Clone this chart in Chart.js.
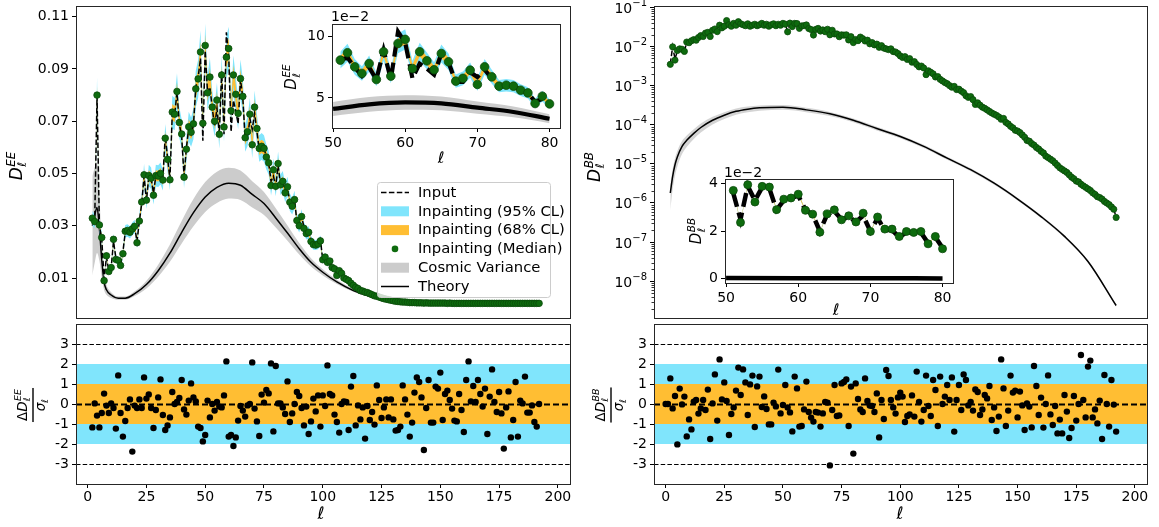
<!DOCTYPE html>
<html>
<head>
<meta charset="utf-8">
<title>Inpainting EE / BB</title>
<script src="https://cdn.jsdelivr.net/npm/chart.js@4.4.1/dist/chart.umd.min.js"></script>
<style>
  html, body { margin: 0; padding: 0; background: #fff; }
  #page { position: relative; width: 1159px; height: 527px; overflow: hidden; }
  canvas { position: absolute; }
</style>
</head>
<body>
<div id="page">
  <canvas id="eeMain" width="580" height="340" style="left:0px;top:-10px"></canvas>
  <canvas id="eeRes" width="580" height="209" style="left:0px;top:318px"></canvas>
  <canvas id="bbMain" width="579" height="340" style="left:580px;top:-10px"></canvas>
  <canvas id="bbRes" width="579" height="209" style="left:580px;top:318px"></canvas>
  <canvas id="eeInset" width="300" height="175" style="left:270px;top:0px"></canvas>
  <canvas id="bbInset" width="310" height="180" style="left:660px;top:150px"></canvas>
</div>
<script>
// ---- DATA ----
const ell = Array.from({ length: 191 }, (_, i) => i + 2);       // multipoles 2..192
const ellResBB = Array.from({ length: 193 }, (_, i) => i);     // BB residuals start at 0

const eeMedian = [
  0.0329, 0.0316, 0.0800, 0.0303, 0.0255, 0.0090, 0.0185, 0.0125, 0.0140, 0.0248,
  0.0171, 0.0168, 0.0148, 0.0193, 0.0279, 0.0282, 0.0275, 0.0288, 0.0298, 0.0235,
  0.0318, 0.0391, 0.0495, 0.0398, 0.0492, 0.0482, 0.0417, 0.0492, 0.0490, 0.0500,
  0.0475, 0.0635, 0.0554, 0.0476, 0.0735, 0.0727, 0.0814, 0.0695, 0.0651, 0.0486,
  0.0593, 0.0679, 0.0658, 0.0690, 0.0824, 0.0862, 0.0965, 0.0692, 0.0990, 0.0809,
  0.0869, 0.0754, 0.0700, 0.0781, 0.0650, 0.0877, 0.0678, 0.0945, 0.0978, 0.0740,
  0.0877, 0.0803, 0.0730, 0.0863, 0.0795, 0.0637, 0.0660, 0.0727, 0.0610, 0.0754,
  0.0672, 0.0596, 0.0604, 0.0596, 0.0563, 0.0541, 0.0454, 0.0514, 0.0451, 0.0538,
  0.0457, 0.0470, 0.0426, 0.0449, 0.0390, 0.0375, 0.0400, 0.0320, 0.0300, 0.0335,
  0.0290, 0.0270, 0.0275, 0.0240, 0.0228, 0.0226, 0.0230, 0.0242, 0.0170, 0.0180,
  0.0160, 0.0165, 0.0140, 0.0135, 0.0110, 0.0128, 0.0118, 0.0100, 0.0095, 0.0090,
  0.0080, 0.0072, 0.0064, 0.0060, 0.0052, 0.0050, 0.0046, 0.0044, 0.0040, 0.0036,
  0.0032, 0.0030, 0.0027, 0.0024, 0.0021, 0.0019, 0.0017, 0.0015, 0.0013, 0.0011,
  0.0010, 0.0009, 0.0008, 0.0008, 0.0007, 0.0006, 0.0006, 0.0006, 0.0005, 0.0005,
  0.0005, 0.0004, 0.0005, 0.0004, 0.0004, 0.0004, 0.0004, 0.0004, 0.0004, 0.0004,
  0.0004, 0.0003, 0.0004, 0.0003, 0.0003, 0.0003, 0.0003, 0.0003, 0.0003, 0.0003,
  0.0003, 0.0003, 0.0003, 0.0003, 0.0003, 0.0003, 0.0003, 0.0003, 0.0003, 0.0003,
  0.0003, 0.0003, 0.0003, 0.0003, 0.0003, 0.0003, 0.0003, 0.0003, 0.0003, 0.0003,
  0.0003, 0.0003, 0.0003, 0.0003, 0.0003, 0.0003, 0.0003, 0.0003, 0.0003, 0.0003, 0.0003
];
const eeInput = [
  0.0330, 0.0320, 0.0795, 0.0300, 0.0250, 0.0095, 0.0180, 0.0128, 0.0138, 0.0240,
  0.0178, 0.0160, 0.0150, 0.0200, 0.0275, 0.0282, 0.0272, 0.0300, 0.0296, 0.0240,
  0.0318, 0.0385, 0.0490, 0.0395, 0.0488, 0.0482, 0.0425, 0.0490, 0.0485, 0.0490,
  0.0480, 0.0645, 0.0560, 0.0480, 0.0730, 0.0725, 0.0810, 0.0690, 0.0640, 0.0490,
  0.0598, 0.0675, 0.0650, 0.0685, 0.0830, 0.0868, 0.0940, 0.0625, 0.0970, 0.0810,
  0.0830, 0.0750, 0.0680, 0.0750, 0.0650, 0.0890, 0.0650, 0.1040, 0.0950, 0.0660,
  0.0780, 0.0740, 0.0690, 0.0860, 0.0790, 0.0630, 0.0630, 0.0710, 0.0670, 0.0730,
  0.0660, 0.0590, 0.0600, 0.0600, 0.0560, 0.0540, 0.0470, 0.0490, 0.0450, 0.0530,
  0.0460, 0.0472, 0.0430, 0.0440, 0.0395, 0.0378, 0.0400, 0.0315, 0.0298, 0.0335,
  0.0295, 0.0272, 0.0282, 0.0245, 0.0226, 0.0228, 0.0228, 0.0248, 0.0168, 0.0180,
  0.0152, 0.0163, 0.0138, 0.0137, 0.0114, 0.0133, 0.0118, 0.0100, 0.0095, 0.0094,
  0.0078, 0.0069, 0.0067, 0.0060, 0.0054, 0.0051, 0.0049, 0.0044, 0.0042, 0.0037,
  0.0034, 0.0029, 0.0027, 0.0025, 0.0021, 0.0019, 0.0018, 0.0015, 0.0014, 0.0012,
  0.0011, 0.0010, 0.0008, 0.0008, 0.0007, 0.0007, 0.0006, 0.0006, 0.0005, 0.0005,
  0.0005, 0.0005, 0.0005, 0.0004, 0.0004, 0.0004, 0.0004, 0.0004, 0.0004, 0.0004,
  0.0004, 0.0004, 0.0004, 0.0003, 0.0003, 0.0003, 0.0003, 0.0003, 0.0003, 0.0003,
  0.0003, 0.0003, 0.0003, 0.0003, 0.0003, 0.0003, 0.0003, 0.0003, 0.0003, 0.0003,
  0.0003, 0.0003, 0.0003, 0.0003, 0.0003, 0.0003, 0.0003, 0.0003, 0.0003, 0.0003,
  0.0003, 0.0003, 0.0003, 0.0003, 0.0003, 0.0003, 0.0003, 0.0003, 0.0003, 0.0003, 0.0003
];
const eeResid = [
  -1.17, 0.03, -0.58, -1.17, -0.45, 0.52, -0.08, -0.45, 0.03, -0.2,
  -1.23, 1.43, -0.45, -1.63, -0.85, -0.2, 0.23, -2.38, -0.08, -0.2,
  0.23, -0.2, 1.33, 0.27, 0.48, -0.2, -1.2, -0.3, 0.33, 1.23,
  -0.55, -1.3, -1.07, -0.67, 0.6, 0.0, 0.1, 0.3, 1.2, -0.27,
  -0.53, 0.17, 1.03, 0.33, 0.13, -1.13, -1.2, -1.87, -1.55, 0.17,
  -0.67, 0.0, -0.33, 0.1, -0.13, -0.17, 0.43, 2.13, -1.63, -1.55,
  -2.1, -1.67, -0.83, -0.1, -0.33, -0.63, -0.07, 0.0, 2.08, -0.23,
  -0.87, -1.6, 0.47, 0.07, 0.7, 0.53, 2.03, -1.37, 1.9, 0.03,
  0.03, -0.17, -0.5, 1.13, -0.9, -0.47, 0.0, 0.6, 0.4, -0.2,
  -1.07, -0.13, -1.5, -0.87, 0.27, -0.37, 0.43, -1.13, 0.43, -0.1,
  1.93, 0.5, 0.43, -0.53, -0.9, -1.43, 0.0, 0.13, 0.1, -1.3,
  0.87, 1.4, -1.07, -0.07, -0.77, -0.17, -1.73, -0.1, -0.8, -0.4,
  -1.03, 0.93, 0.2, -0.7, -0.17, 0.23, -0.67, 0.23, -0.77, -1.33,
  -1.3, -1.13, 0.93, 0.23, -0.53, -1.63, -0.93, 0.57, 1.33, 1.1,
  0.33, -2.3, -0.2, 1.2, -0.93, -0.93, 0.87, 0.77, 1.57, -0.8,
  0.5, 0.67, 0.2, -0.23, -0.83, -0.87, 0.5, -0.3, -1.4, 1.2,
  2.13, 0.13, 0.9, 0.1, 1.2, 0.5, -0.13, 0.77, -1.5, 0.37,
  1.73, 0.1, -0.4, 0.6, -0.47, -2.23, -0.17, 0.63, -1.67, -0.8,
  1.1, -1.63, 0.17, 0.03, 1.37, -0.43, -0.43, -0.07, -0.9, -1.13, 0.0
];
const eeTheoryEll = [2, 3, 4, 5, 6, 7, 8, 10, 13, 16, 20, 25, 30, 35, 40, 45, 50, 55, 60, 65,
  70, 75, 80, 85, 90, 95, 100, 106, 113, 120, 127, 134, 140, 150, 160, 170, 180, 192];
const eeTheory = [0.030, 0.034, 0.037, 0.029, 0.017, 0.0085, 0.0055, 0.0035, 0.0023, 0.0023,
  0.0040, 0.0075, 0.0128, 0.0195, 0.0275, 0.0350, 0.0410, 0.0447, 0.0463, 0.0455,
  0.0420, 0.0385, 0.0330, 0.0272, 0.0212, 0.0160, 0.0122, 0.0085, 0.0052, 0.0030,
  0.0017, 0.0009, 0.0006, 0.0004, 0.0003, 0.0003, 0.0003, 0.0003];
const eeCvLow = [0.011, 0.0158, 0.0196, 0.0166, 0.0103, 0.0054, 0.0036, 0.0024, 0.0017, 0.0017,
  0.0031, 0.0060, 0.0105, 0.0162, 0.0232, 0.0298, 0.0353, 0.0387, 0.0404, 0.0399,
  0.0370, 0.0341, 0.0293, 0.0243, 0.0190, 0.0144, 0.0110, 0.0077, 0.0047, 0.0027,
  0.0015, 0.0008, 0.0005, 0.0004, 0.0003, 0.0003, 0.0003, 0.0003];
const eeCvHigh = [0.049, 0.0522, 0.0544, 0.0414, 0.0237, 0.0116, 0.0074, 0.0046, 0.0029, 0.0029,
  0.0049, 0.0090, 0.0151, 0.0228, 0.0318, 0.0402, 0.0467, 0.0507, 0.0522, 0.0511,
  0.0470, 0.0429, 0.0367, 0.0301, 0.0234, 0.0176, 0.0134, 0.0093, 0.0057, 0.0033,
  0.0019, 0.0010, 0.0007, 0.0004, 0.0003, 0.0003, 0.0003, 0.0003];

const bbMedian = [
  3.5e-3, 9.8e-3, 4.5e-3, 7.9e-3, 8.7e-3, 8.5e-3, 7.5e-3, 1.3e-2, 1.25e-2, 1.4e-2,
  1.5e-2, 1.45e-2, 1.7e-2, 1.9e-2, 1.8e-2, 2.2e-2, 2.3e-2, 1.8e-2, 2.6e-2, 2.8e-2,
  2.4e-2, 3.5e-2, 3.0e-2, 3.3e-2, 4.6e-2, 3.6e-2, 3.3e-2, 3.9e-2, 3.5e-2, 4.3e-2,
  3.8e-2, 3.6e-2, 3.4e-2, 3.8e-2, 3.3e-2, 3.5e-2, 3.7e-2, 3.4e-2, 3.6e-2, 3.9e-2,
  3.5e-2, 3.7e-2, 3.3e-2, 3.6e-2, 3.8e-2, 3.4e-2, 3.7e-2, 3.5e-2, 3.9e-2, 3.72e-2,
  2.37e-2, 3.96e-2, 3.23e-2, 3.89e-2, 3.86e-2, 2.91e-2, 3.35e-2, 3.40e-2, 3.56e-2, 2.88e-2,
  2.72e-2, 1.96e-2, 2.73e-2, 2.90e-2, 2.48e-2, 2.65e-2, 2.39e-2, 2.76e-2, 1.99e-2, 2.60e-2,
  2.09e-2, 2.09e-2, 1.78e-2, 1.99e-2, 1.95e-2, 1.99e-2, 1.47e-2, 1.78e-2, 1.26e-2, 1.51e-2,
  1.41e-2, 1.74e-2, 1.58e-2, 1.38e-2, 1.45e-2, 1.17e-2, 1.26e-2, 1.10e-2, 1.15e-2, 9.55e-3,
  1.05e-2, 9.12e-3, 8.71e-3, 8.32e-3, 8.71e-3, 7.41e-3, 7.24e-3, 6.61e-3, 5.75e-3, 5.25e-3,
  5.50e-3, 4.68e-3, 4.90e-3, 3.98e-3, 4.10e-3, 3.47e-3, 3.02e-3, 3.16e-3, 2.82e-3, 1.91e-3,
  2.40e-3, 2.19e-3, 2.00e-3, 1.66e-3, 1.70e-3, 1.45e-3, 1.32e-3, 1.20e-3, 1.12e-3, 1.00e-3,
  9.12e-4, 9.55e-4, 7.94e-4, 8.10e-4, 7.24e-4, 6.61e-4, 5.50e-4, 5.01e-4, 5.25e-4, 4.37e-4,
  3.31e-4, 3.63e-4, 3.16e-4, 2.82e-4, 2.63e-4, 2.40e-4, 2.19e-4, 2.00e-4, 1.86e-4, 1.74e-4,
  1.58e-4, 1.38e-4, 1.45e-4, 1.15e-4, 1.05e-4, 9.12e-5, 8.32e-5, 7.24e-5, 6.92e-5, 6.31e-5,
  5.50e-5, 4.79e-5, 3.98e-5, 3.80e-5, 3.31e-5, 3.02e-5, 2.63e-5, 2.40e-5, 2.09e-5, 1.91e-5,
  1.58e-5, 1.45e-5, 1.32e-5, 1.20e-5, 1.05e-5, 9.12e-6, 7.94e-6, 7.24e-6, 6.61e-6, 6.03e-6,
  5.25e-6, 4.57e-6, 4.17e-6, 3.63e-6, 3.47e-6, 3.02e-6, 2.75e-6, 2.51e-6, 2.29e-6, 2.09e-6,
  1.82e-6, 1.66e-6, 1.45e-6, 1.38e-6, 1.26e-6, 1.10e-6, 1.00e-6, 9.12e-7, 7.94e-7, 6.92e-7, 4.27e-7
];
const bbInput = [
  3.6e-3, 1.0e-2, 4.8e-3, 7.6e-3, 8.9e-3, 8.3e-3, 7.7e-3, 1.28e-2, 1.27e-2, 1.38e-2,
  1.52e-2, 1.43e-2, 1.72e-2, 1.88e-2, 1.83e-2, 2.18e-2, 2.33e-2, 1.85e-2, 2.57e-2, 2.82e-2,
  2.45e-2, 3.45e-2, 3.05e-2, 3.3e-2, 4.5e-2, 3.62e-2, 3.35e-2, 3.85e-2, 3.52e-2, 4.25e-2,
  3.78e-2, 3.62e-2, 3.42e-2, 3.76e-2, 3.34e-2, 3.48e-2, 3.68e-2, 3.42e-2, 3.62e-2, 3.86e-2,
  3.52e-2, 3.68e-2, 3.34e-2, 3.58e-2, 3.76e-2, 3.42e-2, 3.66e-2, 3.52e-2, 3.86e-2, 3.6e-2,
  2.5e-2, 3.9e-2, 3.3e-2, 3.85e-2, 3.8e-2, 2.9e-2, 3.3e-2, 3.4e-2, 3.5e-2, 2.9e-2,
  2.7e-2, 2.0e-2, 2.7e-2, 2.85e-2, 2.5e-2, 2.6e-2, 2.4e-2, 2.65e-2, 2.0e-2, 2.55e-2,
  2.05e-2, 2.05e-2, 1.75e-2, 1.95e-2, 1.95e-2, 1.95e-2, 1.5e-2, 1.75e-2, 1.3e-2, 1.49e-2,
  1.43e-2, 1.72e-2, 1.6e-2, 1.36e-2, 1.47e-2, 1.19e-2, 1.24e-2, 1.12e-2, 1.13e-2, 9.7e-3,
  1.03e-2, 9.3e-3, 8.6e-3, 8.4e-3, 8.6e-3, 7.5e-3, 7.1e-3, 6.7e-3, 5.8e-3, 5.2e-3,
  5.6e-3, 4.7e-3, 4.85e-3, 4.05e-3, 4.05e-3, 3.5e-3, 3.05e-3, 3.12e-3, 2.85e-3, 1.95e-3,
  2.36e-3, 2.2e-3, 1.98e-3, 1.68e-3, 1.68e-3, 1.47e-3, 1.3e-3, 1.21e-3, 1.1e-3, 1.01e-3,
  9.0e-4, 9.6e-4, 8.0e-4, 8.0e-4, 7.3e-4, 6.5e-4, 5.6e-4, 4.95e-4, 5.3e-4, 4.3e-4,
  3.35e-4, 3.6e-4, 3.2e-4, 2.8e-4, 2.65e-4, 2.38e-4, 2.2e-4, 1.98e-4, 1.88e-4, 1.72e-4,
  1.6e-4, 1.36e-4, 1.46e-4, 1.16e-4, 1.04e-4, 9.2e-5, 8.2e-5, 7.3e-5, 6.85e-5, 6.4e-5,
  5.4e-5, 4.85e-5, 3.95e-5, 3.85e-5, 3.28e-5, 3.05e-5, 2.6e-5, 2.42e-5, 2.07e-5, 1.93e-5,
  1.56e-5, 1.46e-5, 1.3e-5, 1.21e-5, 1.04e-5, 9.2e-6, 7.9e-6, 7.3e-6, 6.55e-6, 6.1e-6,
  5.2e-6, 4.6e-6, 4.15e-6, 3.65e-6, 3.45e-6, 3.05e-6, 2.72e-6, 2.53e-6, 2.27e-6, 2.1e-6,
  1.8e-6, 1.67e-6, 1.44e-6, 1.39e-6, 1.25e-6, 1.11e-6, 9.9e-7, 9.2e-7, 7.9e-7, 6.95e-7, 4.3e-7
];
const bbResid = [
  0, 0, 1.28, -0.22, 0.4, -2.02, 0.77, -0.02, 0.37, -1.62,
  -0.77, -1.27, 0.12, 0.2, -0.48, -0.22, 0.2, -0.3, 0.72, -1.75,
  0.03, 1.48, -0.83, 2.23, 0.23, 1.08, 0.15, -1.55, -0.5, -0.17,
  0.67, 1.82, 0.45, 1.73, 1.08, -0.55, 0.98, 1.42, -1.15, 0.88,
  1.37, -0.15, 0.38, -0.25, -1.02, -1.02, 0.07, -0.12, 1.72, -0.47,
  -0.05, 0.95, -0.17, -0.42, -1.37, 1.37, 0.78, -1.13, -1.1, -0.27,
  1.12, -0.4, -0.68, -0.88, -0.4, -0.43, -1.13, -0.47, 0.1, 0.07,
  -3.07, -0.3, 0.95, -0.6, -0.57, 1.03, 1.1, 1.23, -1.1, 0.87,
  -2.48, 1.03, 0.25, -0.27, -0.4, 1.28, 0.15, -0.08, -0.1, -0.4,
  0.53, -1.67, 0.2, -0.75, 1.7, 1.4, 0.2, -0.17, -0.48, 0.33,
  0.57, 0.37, -0.9, -0.6, -0.52, 0.43, -0.63, 1.62, 0.1, -0.88,
  -0.3, 1.42, -0.1, -0.6, 1.2, 0.7, -1.1, 1.37, 0.0, 0.37,
  0.95, 0.2, 1.33, -1.38, 0.2, 0.95, -0.3, 1.48, 1.2, -0.07,
  0.1, -0.33, 0.73, 0.6, -0.55, -0.27, 0.45, 0.28, 0.9, -0.8,
  -0.17, -1.35, -0.63, 2.23, 0.78, -1.1, -0.33, 1.42, 0.57, 0.67,
  -0.67, 0.62, -0.07, -1.3, 0.03, -0.13, -1.17, 1.9, 0.9, -0.55,
  0.32, -1.18, 0.0, 1.43, -0.52, -1.05, -0.1, -1.47, -0.78, -1.47,
  0.45, -0.38, -1.7, -1.2, 0.4, -0.83, 0.0, 2.45, 0.2, -0.67,
  1.87, 2.17, -0.67, -0.27, -0.97, 0.17, -1.75, 1.45, 0.0, -1.13,
  1.2, -0.03, -1.38
];
const bbTheoryEll = [2, 3, 4, 5, 7, 9, 12, 15, 20, 25, 30, 35, 40, 50, 60, 70, 80, 90, 100,
  110, 120, 130, 140, 150, 160, 170, 180, 192];
const bbTheory = [1.8e-6, 4.8e-6, 9.5e-6, 1.5e-5, 2.8e-5, 4.0e-5, 6.0e-5, 8.5e-5, 1.3e-4, 1.75e-4,
  2.2e-4, 2.5e-4, 2.7e-4, 2.8e-4, 2.4e-4, 1.9e-4, 1.3e-4, 8.0e-5, 5.0e-5,
  2.8e-5, 1.4e-5, 7.1e-6, 3.2e-6, 1.26e-6, 4.5e-7, 1.4e-7, 3.2e-8, 2.4e-9];
const bbCvLow = [6.6e-7, 2.23e-6, 5.0e-6, 8.6e-6, 1.78e-5, 2.7e-5, 4.34e-5, 6.34e-5, 1.01e-4, 1.40e-4,
  1.80e-4, 2.08e-4, 2.28e-4, 2.41e-4, 2.09e-4, 1.67e-4, 1.16e-4, 7.16e-5, 4.5e-5,
  2.53e-5, 1.27e-5, 6.48e-6, 2.93e-6, 1.16e-6, 4.14e-7, 1.29e-7, 2.96e-8, 2.2e-9];
const bbCvHigh = [2.94e-6, 7.37e-6, 1.4e-5, 2.14e-5, 3.82e-5, 5.3e-5, 7.66e-5, 1.07e-4, 1.59e-4, 2.10e-4,
  2.60e-4, 2.92e-4, 3.12e-4, 3.19e-4, 2.71e-4, 2.13e-4, 1.44e-4, 8.84e-5, 5.5e-5,
  3.07e-5, 1.53e-5, 7.72e-6, 3.47e-6, 1.36e-6, 4.86e-7, 1.51e-7, 3.44e-8, 2.6e-9];

// relative half-widths of the inpainting credible bands
const ciEE95 = 0.085, ciEE68 = 0.042;
const ciBB95 = 0.015, ciBB68 = 0.012;

// tick labels
const xTicks = [0, 25, 50, 75, 100, 125, 150, 175, 200];
const eeTicks = [0.01, 0.03, 0.05, 0.07, 0.09, 0.11];
const bbTicks = [1e-8, 1e-7, 1e-6, 1e-5, 1e-4, 1e-3, 1e-2, 1e-1];
const resTicks = [-3, -2, -1, 0, 1, 2, 3];
const insetXTicks = [50, 60, 70, 80];
const eeInsetTicks = [5, 10];
const bbInsetTicks = [0, 2, 4];
const sigmaBands = [2, 1];
const refLines = [-3, 0, 3];
const legendLabels = ['Input', 'Inpainting (95% CL)', 'Inpainting (68% CL)',
  'Inpainting (Median)', 'Cosmic Variance', 'Theory'];

// ---- STYLE ----
const CYAN = '#80e5fc', ORANGE = '#ffbe33', GRAY = '#cccccc';
const GREEN = '#0e6b0e', GREEN_EDGE = '#0a4a0a';
Chart.defaults.font.family = '"DejaVu Sans"';
Chart.defaults.color = '#000';

const pts = (xs, ys, k = 1) => xs.map((x, i) => ({ x, y: ys[i] * k }));
const band = (ys, f) => ys.map(v => v * (1 + f));
const F = (s, it) => `${it ? 'italic ' : ''}${s}px "DejaVu Sans"`;

function axis(type, min, max, ticks, fmt, extra) {
  return Object.assign({
    type, min, max, bounds: 'data',
    afterBuildTicks: s => { s.ticks = ticks.map(v => ({ value: v })); },
    ticks: { autoSkip: false, maxRotation: 0, minRotation: 0, padding: 3, color: '#000',
             font: { size: 14 }, callback: fmt },
    grid: { drawOnChartArea: false, drawTicks: true, tickLength: 4, tickColor: '#000', tickWidth: 1 },
    border: { display: false }
  }, extra || {});
}

// D_l^XY with optional upright prefix; returns width
function dGroup(c, x, base, size, sup, pre, draw) {
  let w = 0;
  if (pre) { c.font = F(size, false); if (draw) c.fillText(pre, x, base); w += c.measureText(pre).width; }
  c.font = F(size, true); if (draw) c.fillText('D', x + w, base); w += c.measureText('D').width + 0.5;
  c.font = F(size * 0.7, true);
  const ws = c.measureText(sup).width, wl = c.measureText('ℓ').width;
  if (draw) { c.fillText(sup, x + w, base - size * 0.42); c.fillText('ℓ', x + w, base + size * 0.24); }
  return w + Math.max(ws, wl);
}
function yLabel(c, bx, cy, size, sup) {
  c.save(); c.translate(bx, cy); c.rotate(-Math.PI / 2);
  c.fillStyle = '#000'; c.textAlign = 'left'; c.textBaseline = 'alphabetic';
  const w = dGroup(c, 0, 0, size, sup, '', false);
  dGroup(c, -w / 2, 0, size, sup, '', true);
  c.restore();
}
function resLabel(c, bx, cy, size, sup) {
  c.save(); c.translate(bx, cy); c.rotate(-Math.PI / 2);
  c.fillStyle = '#000'; c.textAlign = 'left'; c.textBaseline = 'alphabetic';
  const wn = dGroup(c, 0, 0, size, sup, 'Δ', false);
  c.font = F(size, true); const wsig = c.measureText('σ').width;
  c.font = F(size * 0.7, true); const wd = wsig + c.measureText('ℓ').width;
  const wb = Math.max(wn, wd) + 2;
  dGroup(c, -wn / 2, -size * 0.45, size, sup, 'Δ', true);
  c.fillRect(-wb / 2, -0.7, wb, 1.4);
  c.font = F(size, true); c.fillText('σ', -wd / 2, size * 0.9);
  c.font = F(size * 0.7, true); c.fillText('ℓ', -wd / 2 + wsig, size * 0.9 + size * 0.24);
  c.restore();
}
function text(c, s, x, y, font, align, baseline) {
  c.font = font; c.fillStyle = '#000'; c.textAlign = align || 'center'; c.textBaseline = baseline || 'middle';
  c.fillText(s, x, y);
}

function framePlugin(off, opts) {
  return {
    id: 'frame',
    beforeDraw(chart) {
      if (!opts.white) return;
      const a = chart.chartArea, c = chart.ctx;
      c.save(); c.fillStyle = '#fff'; c.fillRect(a.left, a.top, a.right - a.left, a.bottom - a.top); c.restore();
    },
    beforeDatasetsDraw(chart) {
      if (opts.under) { const c = chart.ctx; c.save(); opts.under(c, chart); c.restore(); }
    },
    afterDraw(chart) {
      const a = chart.chartArea, c = chart.ctx;
      c.save();
      c.strokeStyle = '#262626'; c.lineWidth = 1;
      c.strokeRect(Math.round(a.left) + 0.5, Math.round(a.top) + 0.5,
                   Math.round(a.right - a.left), Math.round(a.bottom - a.top));
      c.translate(-off[0], -off[1]);
      if (opts.over) opts.over(c, chart);
      c.restore();
    }
  };
}

function panel(id, off, area, x, y, datasets, opts) {
  const el = document.getElementById(id);
  const L = area[0] - off[0], T = area[1] - off[1], R = area[2] - off[0], B = area[3] - off[1];
  const xShown = x.display !== false;
  x.afterFit = s => { s.height = el.height - B; s.paddingLeft = 0; s.paddingRight = 0; };
  y.afterFit = s => { s.width = L; s.paddingTop = 0; s.paddingBottom = 0; };
  return new Chart(el, {
    type: 'line',
    data: { datasets },
    options: {
      responsive: false, animation: false, events: [],
      layout: { padding: { left: 0, top: T, right: el.width - R, bottom: xShown ? 0 : el.height - B } },
      scales: { x, y },
      plugins: { legend: { display: false }, tooltip: { enabled: false } }
    },
    plugins: [framePlugin(off, opts || {})]
  });
}

function spectrumSets(xs, med, inp, c95, c68, thX, th, cvLo, cvHi, k, st) {
  const none = 'rgba(0,0,0,0)';
  return [
    { data: pts(xs, med, k), showLine: false, pointRadius: st.r, pointBackgroundColor: GREEN,
      pointBorderColor: GREEN_EDGE, pointBorderWidth: 0.8 },
    { data: pts(xs, inp, k), borderColor: '#000', borderWidth: st.lw, borderDash: st.dash, pointRadius: 0 },
    { data: pts(xs, band(med, c68), k), fill: '+1', backgroundColor: ORANGE, borderColor: none, borderWidth: 0, pointRadius: 0 },
    { data: pts(xs, band(med, -c68), k), borderColor: none, borderWidth: 0, pointRadius: 0 },
    { data: pts(xs, band(med, c95), k), fill: '+1', backgroundColor: CYAN, borderColor: none, borderWidth: 0, pointRadius: 0 },
    { data: pts(xs, band(med, -c95), k), borderColor: none, borderWidth: 0, pointRadius: 0 },
    { data: pts(thX, th, k), borderColor: '#000', borderWidth: st.thw, pointRadius: 0, cubicInterpolationMode: 'monotone' },
    { data: pts(thX, cvHi, k), fill: '+1', backgroundColor: st.gray, borderColor: none, borderWidth: 0, pointRadius: 0, cubicInterpolationMode: 'monotone' },
    { data: pts(thX, cvLo, k), borderColor: none, borderWidth: 0, pointRadius: 0, cubicInterpolationMode: 'monotone' }
  ];
}

function residBands(c, chart) {
  const a = chart.chartArea, y = chart.scales.y;
  [[sigmaBands[0], CYAN], [sigmaBands[1], ORANGE]].forEach(([s, col]) => {
    const t = y.getPixelForValue(s), b = y.getPixelForValue(-s);
    c.fillStyle = col; c.fillRect(a.left, t, a.right - a.left, b - t);
  });
  c.strokeStyle = '#000';
  refLines.forEach(v => {
    const py = Math.round(y.getPixelForValue(v)) + 0.5;
    c.lineWidth = v === 0 ? 1.8 : 1.2;
    c.setLineDash(v === 0 ? [6, 3] : [4.5, 2.2]);
    c.beginPath(); c.moveTo(a.left, py); c.lineTo(a.right, py); c.stroke();
  });
  c.setLineDash([]);
}

function drawLegend(c) {
  const x0 = 377.5, y0 = 182.5, w = 173, h = 115;
  c.fillStyle = 'rgba(255,255,255,0.8)'; c.strokeStyle = '#cccccc'; c.lineWidth = 1;
  c.beginPath();
  if (c.roundRect) c.roundRect(x0, y0, w, h, 3); else c.rect(x0, y0, w, h);
  c.fill(); c.stroke();
  legendLabels.forEach((name, i) => {
    const cy = 192.5 + i * 18.8, hx = 381, hw = 28;
    c.strokeStyle = '#000'; c.lineWidth = 1.5;
    if (i === 0 || i === 5) {
      c.setLineDash(i === 0 ? [5.5, 2.4] : []);
      c.beginPath(); c.moveTo(hx, cy); c.lineTo(hx + hw, cy); c.stroke(); c.setLineDash([]);
    } else if (i === 3) {
      c.fillStyle = GREEN; c.beginPath(); c.arc(hx + hw / 2, cy, 3.3, 0, Math.PI * 2); c.fill();
    } else {
      c.fillStyle = i === 1 ? CYAN : i === 2 ? ORANGE : GRAY;
      c.fillRect(hx, cy - 5, hw, 10);
    }
    text(c, name, 418, cy + 0.5, F(14.8, false), 'left', 'middle');
  });
}

// log axis: decade labels as 10^n (drawn as mathtext-like) plus minor ticks
function logAxisDecor(c, chart, off) {
  const y = chart.scales.y, a = chart.chartArea;
  c.save(); c.translate(off[0], off[1]);
  c.strokeStyle = '#000'; c.lineWidth = 0.8;
  for (let e = -9; e <= -1; e++) {
    for (let m = 2; m <= 9; m++) {
      const v = m * Math.pow(10, e);
      if (v < y.min || v > y.max) continue;
      const py = Math.round(y.getPixelForValue(v)) + 0.5;
      c.beginPath(); c.moveTo(a.left - 2.5, py); c.lineTo(a.left, py); c.stroke();
    }
  }
  c.fillStyle = '#000'; c.textBaseline = 'alphabetic'; c.textAlign = 'left';
  bbTicks.forEach(v => {
    const py = y.getPixelForValue(v);
    const ex = '\u2212' + Math.abs(Math.round(Math.log10(v)));
    c.font = F(10, false); const we = c.measureText(ex).width;
    c.font = F(14, false); const wb = c.measureText('10').width;
    const right = a.left - 7;
    c.fillText('10', right - we - wb, py + 5.5);
    c.font = F(10, false); c.fillText(ex, right - we, py - 1.5);
  });
  c.restore();
}

// ---- PANELS ----
const XMIN = -4.95, XMAX = 205.15;
const hiddenX = () => axis('linear', XMIN, XMAX, xTicks, v => v, { display: false });
const insetIdx = [49, 79];                      // l = 51..80
const inEll = ell.slice(...insetIdx);
const fix2 = v => v.toFixed(2);
const intFmt = v => String(v);
const resX = () => axis('linear', XMIN, XMAX, xTicks, intFmt,
  { ticks: { autoSkip: false, maxRotation: 0, padding: 1, color: '#000', font: { size: 14 }, callback: intFmt } });

panel('eeMain', [0, -10], [76, 6, 570, 324], hiddenX(),
  axis('linear', -0.0053, 0.1141, eeTicks, fix2),
  spectrumSets(ell, eeMedian, eeInput, ciEE95, ciEE68, eeTheoryEll, eeTheory, eeCvLow, eeCvHigh, 1,
    { r: 3.3, lw: 1.5, dash: [5.5, 2.4], thw: 1.5, gray: GRAY }),
  { over: c => { yLabel(c, 22, 166, 17, 'EE'); drawLegend(c); } });

panel('eeRes', [0, 318], [76, 324, 570, 484], resX(),
  axis('linear', -4, 4, resTicks, intFmt),
  [{ data: pts(ell, eeResid), showLine: false, pointRadius: 3.2, pointBackgroundColor: '#000', pointBorderWidth: 0 }],
  { under: residBands, over: c => { resLabel(c, 33, 405, 13.5, 'EE'); text(c, 'ℓ', 321, 515, F(17, true)); } });

panel('bbMain', [580, -10], [654, 6, 1147, 324], hiddenX(),
  axis('logarithmic', 1.15e-9, 0.1084, bbTicks, () => ''),
  spectrumSets(ell, bbMedian, bbInput, ciBB95, ciBB68, bbTheoryEll, bbTheory, bbCvLow, bbCvHigh, 1,
    { r: 3.1, lw: 1.5, dash: [5.5, 2.4], thw: 1.5, gray: 'rgba(160,160,160,0.45)' }),
  { over: (c, chart) => { logAxisDecor(c, chart, [580, -10]); yLabel(c, 600, 167, 17, 'BB'); } });

panel('bbRes', [580, 318], [654, 324, 1147, 484], resX(),
  axis('linear', -4, 4, resTicks, intFmt),
  [{ data: pts(ellResBB, bbResid), showLine: false, pointRadius: 3.2, pointBackgroundColor: '#000', pointBorderWidth: 0 }],
  { under: residBands, over: c => { resLabel(c, 611, 405, 13.5, 'BB'); text(c, 'ℓ', 900, 515, F(17, true)); } });

const eeInThX = eeTheoryEll.filter(l => l >= 50 && l <= 80);
const eeInSel = a => a.filter((_, i) => eeTheoryEll[i] >= 50 && eeTheoryEll[i] <= 80);
panel('eeInset', [270, 0], [332, 24, 560, 128],
  axis('linear', 49.85, 81.45, insetXTicks, intFmt),
  axis('linear', 2.54, 11.04, eeInsetTicks, intFmt),
  spectrumSets(inEll, eeMedian.slice(...insetIdx), eeInput.slice(...insetIdx), ciEE95, ciEE68,
    eeInThX, eeInSel(eeTheory), eeInSel(eeCvLow), eeInSel(eeCvHigh), 100,
    { r: 4.3, lw: 4.2, dash: [14, 6], thw: 4.2, gray: GRAY }),
  { white: true, over: c => {
      text(c, '1e\u22122', 331, 21, F(14, false), 'left', 'alphabetic');
      yLabel(c, 296, 77, 15, 'EE');
      text(c, 'ℓ', 441, 159, F(16, true));
    } });

const bbInThX = bbTheoryEll.filter(l => l >= 50 && l <= 80);
const bbInSel = a => a.filter((_, i) => bbTheoryEll[i] >= 50 && bbTheoryEll[i] <= 80);
panel('bbInset', [660, 150], [725, 179, 953, 283],
  axis('linear', 49.85, 81.45, insetXTicks, intFmt),
  axis('linear', -0.18, 4.2, bbInsetTicks, intFmt),
  spectrumSets(inEll, bbMedian.slice(...insetIdx), bbInput.slice(...insetIdx), ciBB95, ciBB68,
    bbInThX, bbInSel(bbTheory), bbInSel(bbCvLow), bbInSel(bbCvHigh), 100,
    { r: 4, lw: 4.5, dash: [14, 6], thw: 4.5, gray: GRAY }),
  { white: true, over: c => {
      text(c, '1e\u22122', 724, 177, F(14, false), 'left', 'alphabetic');
      yLabel(c, 701, 231, 15, 'BB');
      text(c, 'ℓ', 836, 311, F(16, true));
    } });
</script>
</body>
</html>
